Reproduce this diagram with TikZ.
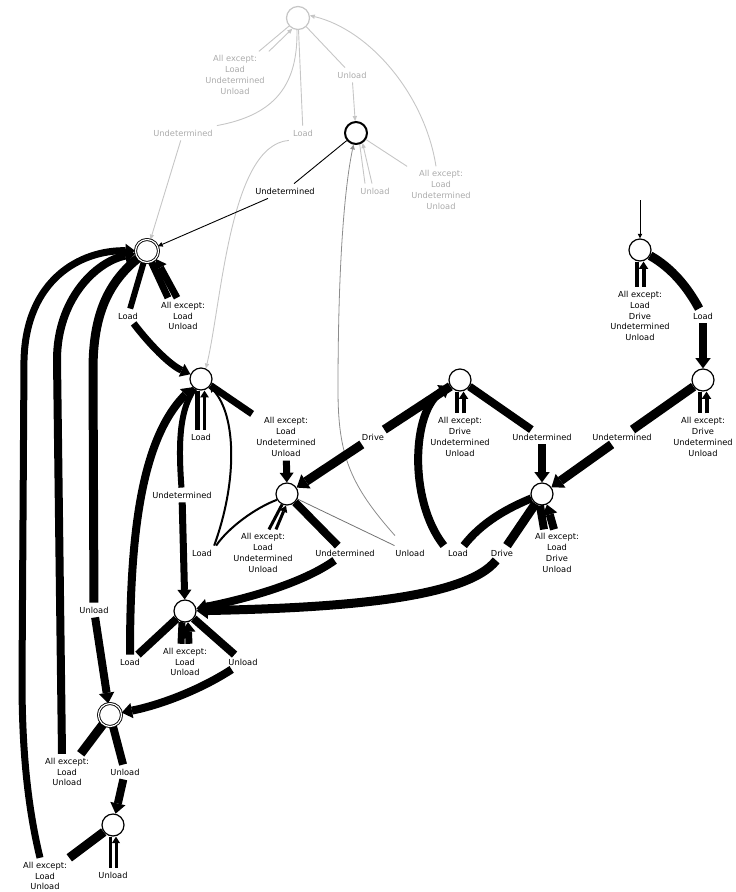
\documentclass[tikz,border=0pt]{standalone}
\usepackage{fontspec}
\setmainfont{DejaVu Sans}
\usetikzlibrary{arrows.meta}
\definecolor{lg}{HTML}{C6C6C6}
\definecolor{lgt}{HTML}{ABABAB}
\pgfdeclarelayer{bg}
\pgfsetlayers{bg,main}
\begin{document}
\begin{tikzpicture}[x=1pt,y=-1pt,line join=round,
  st/.style={circle,draw,fill=white,minimum size=22pt,inner sep=0pt,line width=1.2pt},
  dst/.style={circle,draw,fill=white,minimum size=23pt,inner sep=0pt,line width=0.9pt,double,double distance=1.2pt},
  lab/.style={align=center,inner sep=4pt,font=\fontsize{8.3}{10.8}\selectfont},
  glab/.style={lab,text=lgt},
  edg/.style={line width=#1},
  arw/.style={line width=#1,-{Triangle[length=4pt 0.8,width=3.5pt 1.5,line width=0pt]}},
  ge/.style={draw=lg,line width=0.9pt},
  ga/.style={draw=lg,line width=0.9pt,-{Triangle[length=5pt,width=4.5pt,line width=0pt]}},
]
\useasboundingbox (0,0) rectangle (736,892);
% states
\node[st,draw=lg,minimum size=23pt] (S0) at (298,18) {};
\node[st,line width=2pt] (S1) at (356,133) {};
\node[dst] (S2) at (147,251) {};
\node[st] (S3) at (201,379) {};
\node[st] (S4) at (287,494) {};
\node[st] (S5) at (460,380) {};
\node[st] (S6) at (542,494) {};
\node[st] (S7) at (640,250) {};
\node[st] (S8) at (703,380) {};
\node[st] (S9) at (185,611) {};
\node[dst] (S10) at (110,715) {};
\node[st] (S11) at (113,825) {};
\coordinate (start) at (640,200);
% labels
\node[glab] (La0) at (235,75) {All except:\\Load\\Undetermined\\Unload};
\node[glab] (Lb) at (183,133) {Undetermined};
\node[glab] (Lc) at (303,133) {Load};
\node[glab] (Ld) at (352,75) {Unload};
\node[glab] (Le) at (375,191) {Unload};
\node[glab] (Lf) at (441,190) {All except:\\Load\\Undetermined\\Unload};
\node[lab] (Lg) at (285,191) {Undetermined};
\node[lab] (Lh) at (128,316) {Load};
\node[lab] (Li) at (183,316) {All except:\\Load\\Unload};
\node[lab] (Lj) at (201,437) {Load};
\node[lab] (Lk) at (286,437) {All except:\\Load\\Undetermined\\Unload};
\node[lab] (Ll) at (182,495) {Undetermined};
\node[lab] (Lm) at (373,437) {Drive};
\node[lab] (Ln) at (460,437) {All except:\\Drive\\Undetermined\\Unload};
\node[lab] (Lo) at (542,437) {Undetermined};
\node[lab] (Lp) at (622,437) {Undetermined};
\node[lab] (Lq) at (703,437) {All except:\\Drive\\Undetermined\\Unload};
\node[lab] (Lr) at (640,316) {All except:\\Load\\Drive\\Undetermined\\Unload};
\node[lab] (Ls) at (703,316) {Load};
\node[lab] (Lt) at (202,553) {Load};
\node[lab] (Lu) at (263,553) {All except:\\Load\\Undetermined\\Unload};
\node[lab] (Lv) at (345,553) {Undetermined};
\node[lab] (Lw) at (410,553) {Unload};
\node[lab] (Lx) at (458,553) {Load};
\node[lab] (Ly) at (502,553) {Drive};
\node[lab] (Lz) at (557,553) {All except:\\Load\\Drive\\Unload};
\node[lab] (M1) at (94,610) {Unload};
\node[lab] (M2) at (130,662) {Load};
\node[lab] (M3) at (185,662) {All except:\\Load\\Unload};
\node[lab] (M4) at (243,662) {Unload};
\node[lab] (M5) at (67,772) {All except:\\Load\\Unload};
\node[lab] (M6) at (125,772) {Unload};
\node[lab] (M7) at (45,876) {All except:\\Load\\Unload};
\node[lab] (M8) at (113,875) {Unload};
\begin{pgfonlayer}{bg}
% gray edges
\draw[ge] (S0.-138) -- ([xshift=-10pt]La0.north east);
\draw[ga] (La0.north east) -- (S0.-118);
\draw[ge] (S0.-95) .. controls (298,85) and (275,115) .. (Lb.north east);
\draw[ga] (Lb) -- (S2);
\draw[ge] (S0) -- (Lc);
\draw[ga] (Lc.south west) .. controls (230,145) and (222,300) .. (S3.65);
\draw[ge] (S0) -- (Ld);
\draw[ga] (Ld) -- (S1);
\draw[ge] (S1.-72) -- ([xshift=-10pt]Le.north);
\draw[ga] ([xshift=-3pt]Le.north) -- (S1.-57);
\draw[ge] (S1) -- (Lf.north west);
\draw[ga] ([xshift=-5pt]Lf.north) .. controls (425,95) and (370,30) .. (S0.12);
% thin edges
\draw[line width=0.9pt] (S1) -- (Lg);
\draw[arw=0.9pt] (Lg) -- (S2);
\draw[draw=black!55,line width=0.8pt] (S4) -- (Lw);
\draw[draw=black!45,arw=0.8pt] ([shift={(-15pt,10pt)}]Lw.north) .. controls (350,485) and (338,455) .. (338,390) .. controls (338,250) and (346,180) .. (S1);
\draw[edg=2pt] (S4.-150) .. controls (255,508) and (228,528) .. (Lt.north east);
\draw[arw=2pt] ([xshift=-2pt]Lt.north east) .. controls (238,480) and (236,415) .. (S3.-40);
% thick edges
\draw[edg=6pt] (S2) -- (Lh);
\draw[arw=7pt] (Lh) .. controls (150,345) and (170,365) .. (S3);
\draw[edg=7pt] (S2.-68) -- ([xshift=-15pt]Li.north);
\draw[arw=7pt] ([xshift=-6pt]Li.north) -- (S2.-42);
\draw[edg=5pt] ([xshift=-3.5pt]S3.south) -- ([xshift=-3.5pt]Lj.north);
\draw[arw=3.5pt] ([xshift=3.5pt]Lj.north) -- ([xshift=3.5pt]S3.south);
\draw[edg=7pt] (S3) -- (Lk);
\draw[arw=7pt] (Lk) -- (S4);
\draw[edg=6pt] (S3.-125) .. controls (180,410) and (178,440) .. (Ll);
\draw[arw=7pt] (Ll) -- (S9);
\draw[edg=3pt] (S4.-115) -- ([xshift=6pt]Lu.north);
\draw[arw=3pt] ([xshift=13pt]Lu.north) -- (S4.-95);
\draw[edg=8pt] (S4) -- (Lv);
\draw[arw=8pt] (Lv) .. controls (300,585) and (240,600) .. (S9);
\draw[edg=9pt] (S5) -- (Lm);
\draw[arw=9pt] (Lm) -- (S4);
\draw[edg=4pt] ([xshift=-3.5pt]S5.south) -- ([xshift=-3.5pt]Ln.north);
\draw[arw=4pt] ([xshift=3.5pt]Ln.north) -- ([xshift=3.5pt]S5.south);
\draw[edg=8pt] (S5) -- (Lo);
\draw[arw=8pt] (Lo) -- (S6);
\draw[edg=9pt] (S8) -- (Lp);
\draw[arw=9pt] (Lp) -- (S6);
\draw[edg=4pt] ([xshift=-3.5pt]S8.south) -- ([xshift=-3.5pt]Lq.north);
\draw[arw=4pt] ([xshift=3.5pt]Lq.north) -- ([xshift=3.5pt]S8.south);
\draw[arw=0.8pt] (start) -- (S7);
\draw[edg=4pt] ([xshift=-3.5pt]S7.south) -- ([xshift=-3.5pt]Lr.north);
\draw[arw=4pt] ([xshift=3.5pt]Lr.north) -- ([xshift=3.5pt]S7.south);
\draw[edg=9pt] (S7) .. controls (672,268) and (688,288) .. (Ls);
\draw[arw=8pt] (Ls) -- (S8);
\draw[edg=8pt] (S6) .. controls (508,508) and (482,522) .. (Lx);
\draw[arw=8pt] (Lx.north west) .. controls (408,500) and (412,410) .. (S5);
\draw[edg=9pt] (S6) -- (Ly);
\draw[arw=9pt] (Ly) .. controls (465,600) and (330,608) .. (S9);
\draw[edg=8pt] (S6.-100) -- ([xshift=-13pt]Lz.north);
\draw[arw=8pt] ([xshift=-3pt]Lz.north) -- (S6.-65);
\draw[edg=8pt] (S9) -- (M2);
\draw[arw=8pt] (M2) .. controls (130,540) and (140,440) .. (S3);
\draw[edg=7pt] (S9.-105) -- ([xshift=-4pt]M3.north);
\draw[arw=7pt] ([xshift=4pt]M3.north) -- (S9.-75);
\draw[edg=8pt] (S9) -- (M4);
\draw[arw=8pt] (M4) .. controls (200,690) and (160,705) .. (S10);
\draw[edg=9pt] (S2) .. controls (105,285) and (93,320) .. (93,370) -- (M1);
\draw[arw=8pt] (M1) -- (S10);
\draw[edg=9pt] (S10) -- (M5);
\draw[arw=8pt] ([xshift=-5pt]M5.north) -- (57,360) .. controls (57,300) and (95,262) .. (S2);
\draw[edg=8pt] (S10) -- (M6);
\draw[arw=8pt] (M6) -- (S11);
\draw[edg=3pt] ([xshift=-3pt]S11.south) -- ([xshift=-3pt]M8.north);
\draw[arw=3pt] ([xshift=3pt]M8.north) -- ([xshift=3pt]S11.south);
\draw[edg=9pt] (S11) -- (M7);
\draw[arw=7pt] ([xshift=-5pt]M7.north) .. controls (26,800) and (22,740) .. (22,680) -- (24,360) .. controls (26,280) and (80,250) .. (S2);
\end{pgfonlayer}
\end{tikzpicture}
\end{document}
